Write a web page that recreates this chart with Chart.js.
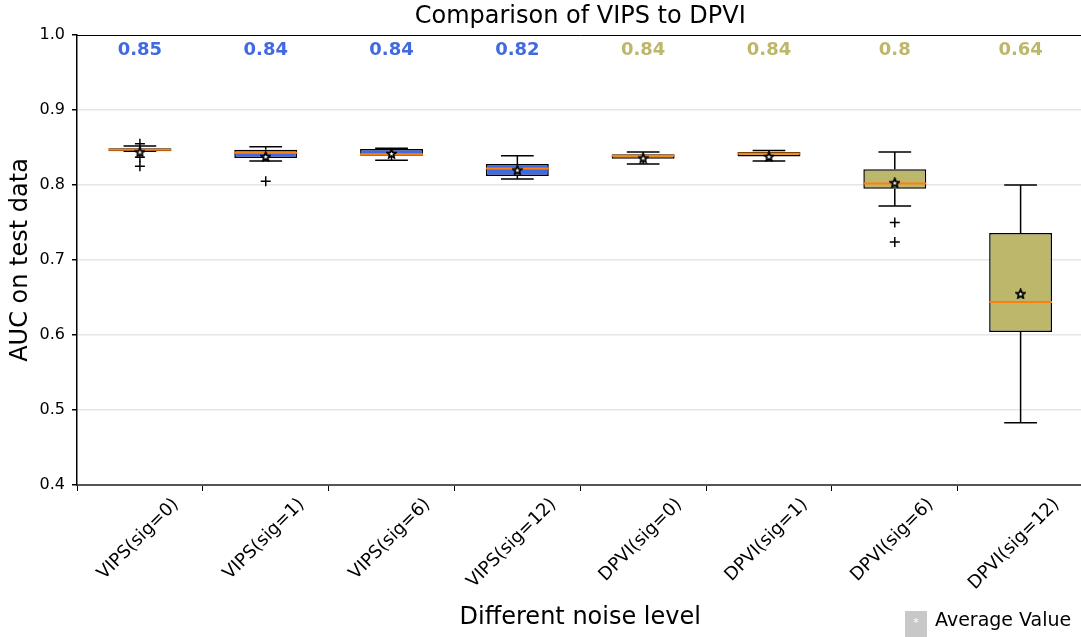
<!DOCTYPE html>
<html>
<head>
<meta charset="utf-8">
<script src="https://cdn.jsdelivr.net/npm/chart.js@4"></script>
<style>
  html, body { margin: 0; padding: 0; background: #fff; overflow: hidden; }
  /* a little wider than the window: the plot runs off the right edge like the original */
  #wrap { width: 1090px; height: 637px; }
</style>
</head>
<body>
<div id="wrap"><canvas id="boxChart"></canvas></div>
<script>
const categories = ['VIPS(sig=0)', 'VIPS(sig=1)', 'VIPS(sig=6)', 'VIPS(sig=12)',
                    'DPVI(sig=0)', 'DPVI(sig=1)', 'DPVI(sig=6)', 'DPVI(sig=12)'];
const q1 = [0.845, 0.836, 0.839, 0.812, 0.835, 0.838, 0.795, 0.604];
const q3 = [0.849, 0.847, 0.848, 0.828, 0.841, 0.844, 0.821, 0.736];
const medians = [0.847, 0.843, 0.841, 0.822, 0.839, 0.842, 0.802, 0.644];
const whiskLow = [0.845, 0.832, 0.833, 0.808, 0.828, 0.832, 0.772, 0.483];
const whiskHigh = [0.852, 0.851, 0.849, 0.839, 0.844, 0.846, 0.844, 0.800];
const means = [0.844, 0.838, 0.842, 0.820, 0.836, 0.838, 0.803, 0.655];
const outliers = [[0.855, 0.837, 0.825], [0.805], [], [], [], [], [0.750, 0.724], []];
const topLabels = ['0.85', '0.84', '0.84', '0.82', '0.84', '0.84', '0.8', '0.64'];
const yTicks = [0.4, 0.5, 0.6, 0.7, 0.8, 0.9, 1.0];

const BLUE = '#4169e1';
const KHAKI = '#bdb76b';
const boxColors = categories.map(c => c.startsWith('VIPS') ? BLUE : KHAKI);
const FONT = "'DejaVu Sans', sans-serif";

// star marker for the means
const starImg = document.createElement('canvas');
starImg.width = 11; starImg.height = 11;
(() => {
    const c = starImg.getContext('2d');
    c.beginPath();
    for (let i = 0; i < 10; i++) {
        const r = i % 2 === 0 ? 4.6 : 2.1;
        const a = -Math.PI / 2 + i * Math.PI / 5;
        const px = 5.5 + r * Math.cos(a), py = 6 + r * Math.sin(a);
        i === 0 ? c.moveTo(px, py) : c.lineTo(px, py);
    }
    c.closePath();
    c.fillStyle = '#fff';
    c.fill();
    c.lineWidth = 1.8;
    c.strokeStyle = '#000';
    c.stroke();
})();

const outlierPoints = [];
outliers.forEach((list, i) => list.forEach(v => outlierPoints.push({ x: categories[i], y: v })));

// whiskers, medians, value labels, title, frame and legend
const boxExtras = {
    id: 'boxExtras',
    beforeDatasetsDraw(chart) {
        const { ctx, scales: { x, y } } = chart;
        const half = (x.getPixelForValue(1) - x.getPixelForValue(0)) * 0.13;
        ctx.save();
        ctx.strokeStyle = '#000';
        ctx.lineWidth = 1.5;
        categories.forEach((c, i) => {
            const cx = x.getPixelForValue(i);
            ctx.beginPath();
            ctx.moveTo(cx, y.getPixelForValue(q3[i]));
            ctx.lineTo(cx, y.getPixelForValue(whiskHigh[i]));
            ctx.moveTo(cx, y.getPixelForValue(q1[i]));
            ctx.lineTo(cx, y.getPixelForValue(whiskLow[i]));
            ctx.moveTo(cx - half, y.getPixelForValue(whiskHigh[i]));
            ctx.lineTo(cx + half, y.getPixelForValue(whiskHigh[i]));
            ctx.moveTo(cx - half, y.getPixelForValue(whiskLow[i]));
            ctx.lineTo(cx + half, y.getPixelForValue(whiskLow[i]));
            ctx.stroke();
        });
        ctx.restore();
    },
    afterDatasetDraw(chart, args) {
        if (args.index !== 0) return;
        const { ctx, scales: { x, y } } = chart;
        const half = (x.getPixelForValue(1) - x.getPixelForValue(0)) * 0.25;
        ctx.save();
        ctx.strokeStyle = '#ff7f0e';
        ctx.lineWidth = 2;
        categories.forEach((c, i) => {
            const cx = x.getPixelForValue(i);
            const my = y.getPixelForValue(medians[i]);
            ctx.beginPath();
            ctx.moveTo(cx - half, my);
            ctx.lineTo(cx + half, my);
            ctx.stroke();
        });
        ctx.restore();
    },
    afterDraw(chart) {
        const { ctx, chartArea, scales: { x, y } } = chart;
        ctx.save();
        // title, centred over the plot area
        ctx.fillStyle = '#000';
        ctx.font = '24px ' + FONT;
        ctx.textAlign = 'center';
        ctx.textBaseline = 'middle';
        ctx.fillText('Comparison of VIPS to DPVI', (chartArea.left + chartArea.right) / 2, 17);
        // value labels
        ctx.font = 'bold 18px ' + FONT;
        topLabels.forEach((t, i) => {
            ctx.fillStyle = boxColors[i];
            ctx.fillText(t, x.getPixelForValue(i), y.getPixelForValue(0.979));
        });
        // top frame
        ctx.strokeStyle = '#000';
        ctx.lineWidth = 1;
        ctx.beginPath();
        ctx.moveTo(chartArea.left, chartArea.top + 0.5);
        ctx.lineTo(chartArea.right, chartArea.top + 0.5);
        ctx.stroke();
        // legend
        ctx.fillStyle = '#c8c8c8';
        ctx.fillRect(905, 611, 22, 26);
        ctx.fillStyle = '#fff';
        ctx.font = '11px ' + FONT;
        ctx.fillText('*', 916, 623);
        ctx.fillStyle = '#000';
        ctx.font = '19px ' + FONT;
        ctx.textAlign = 'left';
        ctx.fillText('Average Value', 935, 621);
        ctx.restore();
    }
};

new Chart(document.getElementById('boxChart'), {
    type: 'bar',
    data: {
        labels: categories,
        datasets: [{
            label: 'IQR',
            data: q1.map((v, i) => [v, q3[i]]),
            backgroundColor: boxColors,
            borderColor: '#000',
            borderWidth: 1.5,
            borderSkipped: false,
            barPercentage: 0.5,
            categoryPercentage: 1,
            order: 3
        }, {
            type: 'line',
            label: 'Average Value',
            data: means.map((v, i) => ({ x: categories[i], y: v })),
            showLine: false,
            pointStyle: starImg,
            pointRadius: 5,
            order: 1
        }, {
            type: 'line',
            label: 'Outliers',
            data: outlierPoints,
            showLine: false,
            pointStyle: 'cross',
            pointRadius: 5,
            pointBorderColor: '#000',
            pointBorderWidth: 1.5,
            order: 2
        }]
    },
    options: {
        responsive: true,
        maintainAspectRatio: false,
        animation: false,
        layout: { padding: { right: 0, left: 0, top: 35, bottom: 0 } },
        plugins: {
            legend: { display: false },
            tooltip: { enabled: false },
            title: { display: false }
        },
        scales: {
            x: {
                offset: true,
                grid: { drawOnChartArea: false, drawTicks: true, tickLength: 6, tickColor: '#000' },
                border: { color: '#555', width: 2 },
                ticks: {
                    color: '#000',
                    font: { family: FONT, size: 18 },
                    minRotation: 45,
                    maxRotation: 45,
                    labelOffset: 36,
                    padding: 3
                },
                title: {
                    display: true,
                    text: 'Different noise level',
                    color: '#000',
                    font: { family: FONT, size: 24 },
                    padding: { top: 0, bottom: 5 }
                },
                afterFit(scale) {
                    scale.height = 152;
                    scale.paddingRight = 0;
                    scale.paddingLeft = 0;
                }
            },
            y: {
                min: 0.4,
                max: 1.0,
                afterBuildTicks(scale) { scale.ticks = yTicks.map(v => ({ value: v })); },
                grid: {
                    color: ctx => (ctx.tick && ctx.tick.value > 0.41 && ctx.tick.value < 0.99) ? '#e6e6e6' : 'rgba(0,0,0,0)',
                    lineWidth: 1.5,
                    tickLength: 5,
                    tickColor: '#000'
                },
                border: { color: '#000', width: 1.5 },
                ticks: {
                    color: '#000',
                    font: { family: FONT, size: 16 },
                    padding: 7,
                    callback: v => v.toFixed(1)
                },
                title: {
                    display: true,
                    text: 'AUC on test data',
                    color: '#000',
                    font: { family: FONT, size: 24 },
                    padding: { top: 6, bottom: 4 }
                },
                afterFit(scale) {
                    scale.width = 77;
                    scale.paddingTop = 0;
                    scale.paddingBottom = 0;
                }
            }
        }
    },
    plugins: [boxExtras]
});
</script>
</body>
</html>
